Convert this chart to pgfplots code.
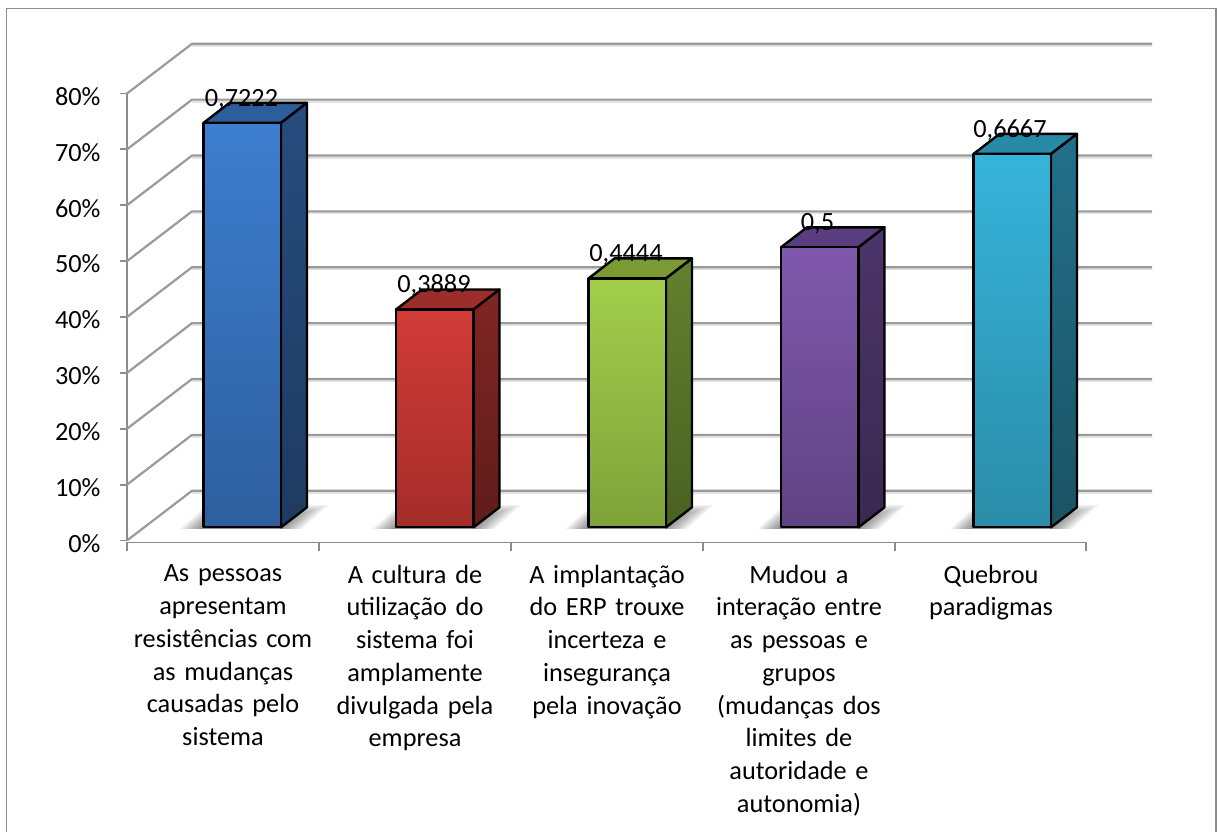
\documentclass[border=0pt]{standalone}
\usepackage{fontspec}
\setmainfont{Carlito}
\usepackage{pgfplots}
\pgfplotsset{compat=1.18}
\definecolor{gridgray}{HTML}{9A9A9A}
\definecolor{gridhalo}{HTML}{E2E2E2}
\definecolor{axisgray}{HTML}{8C8C8C}

% Face colours: front top, front bottom, top face, side top, side bottom
\definecolor{aft}{HTML}{3D7ECF}\definecolor{afb}{HTML}{2D5F9E}\definecolor{atp}{HTML}{2C5E9C}\definecolor{ast}{HTML}{274C7E}\definecolor{asb}{HTML}{1E3B60}
\definecolor{bft}{HTML}{D13B38}\definecolor{bfb}{HTML}{A42D2A}\definecolor{btp}{HTML}{9B2D2A}\definecolor{bst}{HTML}{7F2623}\definecolor{bsb}{HTML}{5F1C1A}
\definecolor{cft}{HTML}{A3CE4B}\definecolor{cfb}{HTML}{7FA23A}\definecolor{ctp}{HTML}{7A9B34}\definecolor{cst}{HTML}{62812E}\definecolor{csb}{HTML}{4A6122}
\definecolor{dft}{HTML}{8058AC}\definecolor{dfb}{HTML}{5F4283}\definecolor{dtp}{HTML}{5A3D80}\definecolor{dst}{HTML}{4C3569}\definecolor{dsb}{HTML}{392850}
\definecolor{eft}{HTML}{36B4DB}\definecolor{efb}{HTML}{2A8CA8}\definecolor{etp}{HTML}{278BA8}\definecolor{est}{HTML}{22708A}\definecolor{esb}{HTML}{1A5364}

\pgfplotsset{
  barface/.style={draw=black, line width=2.4pt, line join=round, mark=none, forget plot},
  halo/.style={color=gridhalo, line width=3pt, mark=none, yshift=-1.5pt},
  gridrun/.style={color=gridgray, line width=2.2pt, mark=none},
}
% One floor shadow, built from stacked translucent parallelograms
\newcommand{\floorshadow}[1]{%
  \foreach \k in {1,2,...,24}{%
    \fill[black, opacity=0.024]
      ({#1-\k},303) -- ({#1+77.5+\k-3},303)
      -- ({#1+77.5+\k-3+1.2*(9+0.58*\k)},{313.5+0.58*\k})
      -- ({#1-\k+1.2*(9+0.58*\k)},{313.5+0.58*\k}) -- cycle;
  }%
}

\begin{document}
\begin{tikzpicture}[x=1pt,y=1pt]
\path[use as bounding box] (0,0) rectangle (1217,832);
\draw[color=axisgray, line width=1.8pt] (6.5,0) -- (6.5,823.5) -- (1216,823.5) -- (1216,0);

% Walls, floor lines and the two visible axes
\begin{axis}[
  at={(127pt,291.5pt)}, anchor=origin,
  scale only axis, width=959pt, height=447pt,
  xmin=127, xmax=1086, ymin=0, ymax=80,
  clip=false,
  axis lines=left,
  axis line style={-, color=axisgray, line width=1.8pt},
  axis x line shift=2pt,
  ytick={0,10,...,80},
  yticklabel={\pgfmathprintnumber{\tick}\%},
  /pgf/number format/assume math mode=true,
  tick align=outside,
  major tick length=7pt,
  minor tick length=9pt,
  y tick style={color=axisgray, line width=1.8pt},
  ticklabel style={font=\fontsize{26.3}{32.7}\selectfont},
  yticklabel style={xshift=-16pt, yshift=-3pt},
  xtick={223,415,607,799,991},
  x tick style={draw=none},
  minor xtick={127,319,511,703,895,1086},
  minor x tick style={draw=axisgray, line width=1.8pt},
  xticklabel style={align=center, text width=195pt, yshift=-12pt},
  xticklabels={
    {As pessoas\\apresentam\\resistências com\\as mudanças\\causadas pelo\\sistema},
    {A cultura de\\utilização do\\sistema foi\\amplamente\\divulgada pela\\empresa},
    {A implantação\\do ERP trouxe\\incerteza e\\insegurança\\pela inovação},
    {Mudou a\\interação entre\\as pessoas e\\grupos\\(mudanças dos\\limites de\\autoridade e\\autonomia)},
    {Quebrou\\paradigmas}
  },
]
  % Soft halo under every grid line
  \addplot[halo] coordinates {(192,8.9)(1152,8.9)};
  \addplot[halo] coordinates {(192,18.9)(1152,18.9)};
  \addplot[halo] coordinates {(192,28.9)(1152,28.9)};
  \addplot[halo] coordinates {(192,38.9)(1152,38.9)};
  \addplot[halo] coordinates {(192,48.9)(1152,48.9)};
  \addplot[halo] coordinates {(192,58.9)(1152,58.9)};
  \addplot[halo] coordinates {(192,68.9)(1152,68.9)};
  \addplot[halo] coordinates {(192,78.9)(1152,78.9)};
  \addplot[halo] coordinates {(192,88.9)(1152,88.9)};
  % Side wall and back wall of each level
  \addplot[gridrun] coordinates {(127,0)(192,8.9)(1152,8.9)};
  \addplot[gridrun] coordinates {(127,10)(192,18.9)(1152,18.9)};
  \addplot[gridrun] coordinates {(127,20)(192,28.9)(1152,28.9)};
  \addplot[gridrun] coordinates {(127,30)(192,38.9)(1152,38.9)};
  \addplot[gridrun] coordinates {(127,40)(192,48.9)(1152,48.9)};
  \addplot[gridrun] coordinates {(127,50)(192,58.9)(1152,58.9)};
  \addplot[gridrun] coordinates {(127,60)(192,68.9)(1152,68.9)};
  \addplot[gridrun] coordinates {(127,70)(192,78.9)(1152,78.9)};
  \addplot[gridrun] coordinates {(127,80)(192,88.9)(1152,88.9)};
\end{axis}

\floorshadow{203.5}
\floorshadow{396}
\floorshadow{588.5}
\floorshadow{781}
\floorshadow{973.5}

% The five bars: front, side and top faces share one value each
\begin{axis}[
  at={(127pt,304.7pt)}, anchor=origin,
  scale only axis, width=959pt, height=448pt,
  xmin=127, xmax=1086, ymin=0, ymax=80,
  clip=false, hide axis,
]
  % Bar 1, 72.22 %
  \addplot[barface, fill=atp] coordinates {(203.5,72.22)(281,72.22)(307,75.79)(229.5,75.79)} -- cycle;
  \addplot[barface, top color=ast, bottom color=asb] coordinates {(281,0)(307,3.57)(307,75.79)(281,72.22)} -- cycle;
  \addplot[barface, top color=aft, bottom color=afb] coordinates {(203.5,0)(281,0)(281,72.22)(203.5,72.22)} -- cycle;
  % Bar 2, 38.89 %
  \addplot[barface, fill=btp] coordinates {(396,38.89)(473.5,38.89)(499.5,42.46)(422,42.46)} -- cycle;
  \addplot[barface, top color=bst, bottom color=bsb] coordinates {(473.5,0)(499.5,3.57)(499.5,42.46)(473.5,38.89)} -- cycle;
  \addplot[barface, top color=bft, bottom color=bfb] coordinates {(396,0)(473.5,0)(473.5,38.89)(396,38.89)} -- cycle;
  % Bar 3, 44.44 %
  \addplot[barface, fill=ctp] coordinates {(588.5,44.44)(666,44.44)(692,48.01)(614.5,48.01)} -- cycle;
  \addplot[barface, top color=cst, bottom color=csb] coordinates {(666,0)(692,3.57)(692,48.01)(666,44.44)} -- cycle;
  \addplot[barface, top color=cft, bottom color=cfb] coordinates {(588.5,0)(666,0)(666,44.44)(588.5,44.44)} -- cycle;
  % Bar 4, 50 %
  \addplot[barface, fill=dtp] coordinates {(781,50)(858.5,50)(884.5,53.57)(807,53.57)} -- cycle;
  \addplot[barface, top color=dst, bottom color=dsb] coordinates {(858.5,0)(884.5,3.57)(884.5,53.57)(858.5,50)} -- cycle;
  \addplot[barface, top color=dft, bottom color=dfb] coordinates {(781,0)(858.5,0)(858.5,50)(781,50)} -- cycle;
  % Bar 5, 66.67 %
  \addplot[barface, fill=etp] coordinates {(973.5,66.67)(1051,66.67)(1077,70.24)(999.5,70.24)} -- cycle;
  \addplot[barface, top color=est, bottom color=esb] coordinates {(1051,0)(1077,3.57)(1077,70.24)(1051,66.67)} -- cycle;
  \addplot[barface, top color=eft, bottom color=efb] coordinates {(973.5,0)(1051,0)(1051,66.67)(973.5,66.67)} -- cycle;

  % Value labels above the front faces
  \addplot[draw=none, mark=none, forget plot,
    nodes near coords, point meta=explicit symbolic,
    nodes near coords style={anchor=south, font=\fontsize{26.3}{33}\selectfont, text=black, inner sep=0pt, yshift=13pt},
  ] table[meta=label] {
    x y label
    241.5 72.22 0,7222
    434 38.89 0,3889
    626 44.44 0,4444
    817.5 50 0,5
    1010 66.67 0,6667
  };
\end{axis}
\end{tikzpicture}
\end{document}
